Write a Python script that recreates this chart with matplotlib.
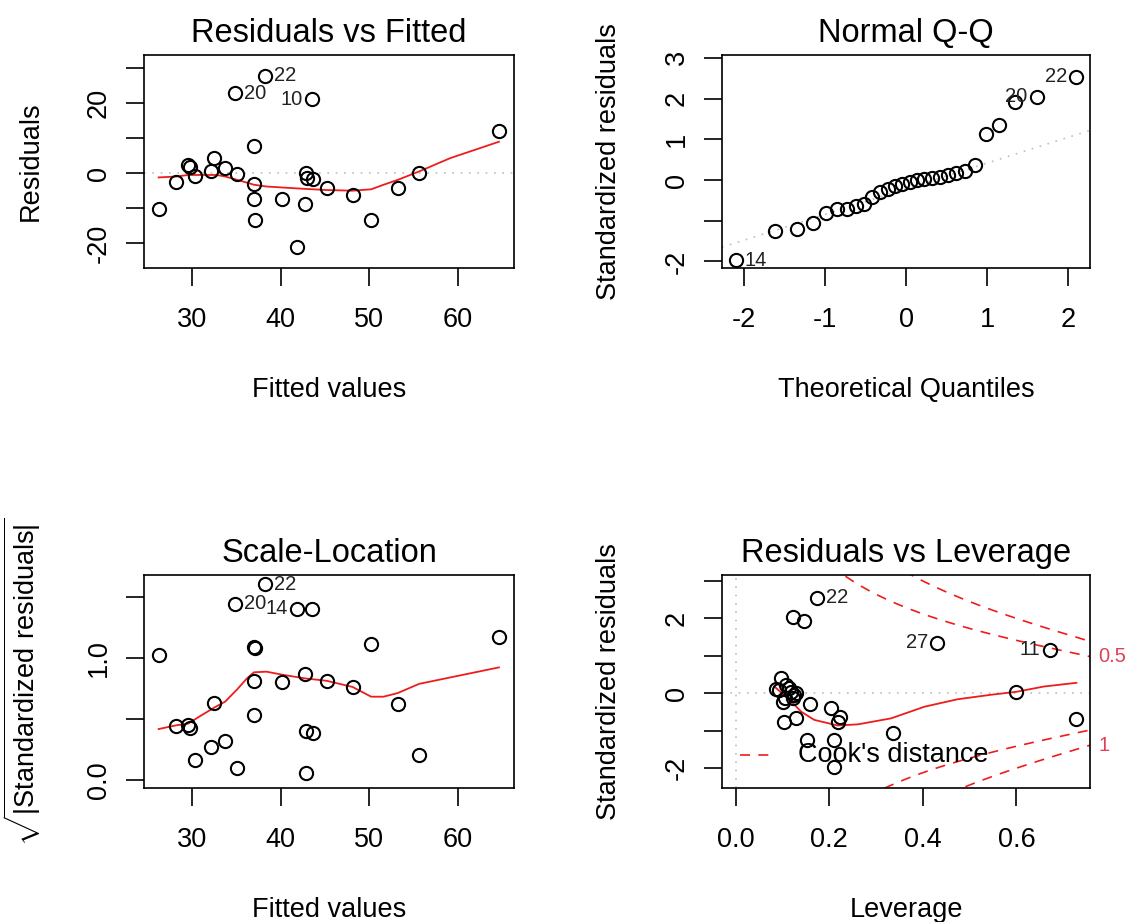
import numpy as np
import matplotlib.pyplot as plt

plt.rcParams['font.family'] = ['Liberation Sans', 'DejaVu Sans']
plt.rcParams['mathtext.fontset'] = 'custom'
plt.rcParams['mathtext.rm'] = 'Liberation Sans'

# ---------------- data ----------------
# Residuals vs Fitted
fitted = [26.25, 28.2, 29.6, 29.8, 30.4, 32.1, 32.5, 33.7, 35.1, 34.9, 38.25, 37.0, 37.0, 37.0,
          37.1, 40.2, 41.8, 42.75, 42.9, 43.0, 43.7, 43.5, 45.2, 48.1, 50.2, 53.2, 55.6, 64.6]
resid = [-10.2, -2.4, 2.4, 1.9, -0.8, 0.7, 4.3, 1.4, -0.2, 22.9, 27.8, 7.8, -3.0, -7.3,
         -13.3, -7.4, -21.0, -8.8, 0.2, -1.5, -1.7, 21.2, -4.3, -6.2, -13.3, -4.3, 0.2, 12.2]
rvf_smooth_x = [26.25, 28.2, 29.6, 30.9, 32.8, 33.75, 35.1, 36.2, 37.0, 38.4, 40.3, 42.9,
                45.2, 48.1, 50.2, 51.6, 53.2, 55.6, 59.1, 64.6]
rvf_smooth_y = [-1.2, -0.95, -0.5, -0.5, -0.5, -0.95, -1.9, -2.7, -3.3, -3.8, -4.1, -4.5,
                -4.8, -5.0, -4.6, -3.3, -1.9, 0.5, 4.3, 9.0]
rvf_ids = [(34.9, 22.9, '20', 'r'), (38.25, 27.8, '22', 'r'), (43.5, 21.2, '10', 'l')]

# Normal Q-Q
qq_theo = [-2.100, -1.611, -1.345, -1.150, -0.992, -0.854, -0.732, -0.619, -0.514, -0.415,
           -0.319, -0.225, -0.135, -0.045, 0.045, 0.135, 0.225, 0.319, 0.415, 0.514,
           0.619, 0.732, 0.854, 0.992, 1.150, 1.345, 1.611, 2.100]
qq_std = [-1.97, -1.25, -1.21, -1.05, -0.80, -0.72, -0.70, -0.64, -0.58, -0.42,
          -0.30, -0.21, -0.15, -0.10, -0.05, -0.01, 0.02, 0.05, 0.08, 0.12,
          0.17, 0.22, 0.38, 1.13, 1.34, 1.91, 2.04, 2.53]
qq_line_x = [-2.27, 2.27]
qq_line_y = [-1.65, 1.22]
qq_ids = [(-2.100, -1.97, '14', 'r'), (1.611, 2.04, '20', 'l'), (2.100, 2.53, '22', 'l')]

# Scale-Location
sl_fitted = [26.25, 28.2, 29.6, 29.8, 30.4, 32.1, 32.5, 33.7, 35.1, 34.9, 38.25, 37.0, 37.1, 37.0,
             37.0, 40.2, 41.8, 42.75, 42.9, 42.9, 43.7, 43.5, 45.2, 48.1, 50.2, 53.2, 55.6, 64.6]
sl_sqrt = [1.02, 0.44, 0.45, 0.42, 0.16, 0.27, 0.63, 0.32, 0.095, 1.44, 1.60, 1.09, 1.08, 0.81,
           0.53, 0.80, 1.40, 0.87, 0.40, 0.055, 0.38, 1.40, 0.81, 0.76, 1.11, 0.62, 0.20, 1.17]
sl_smooth_x = [26.25, 28.2, 29.6, 30.9, 32.5, 33.75, 35.1, 36.2, 37.0, 38.4, 40.2, 42.75,
               45.2, 48.1, 50.2, 51.6, 53.2, 55.6, 64.6]
sl_smooth_y = [0.415, 0.445, 0.46, 0.52, 0.59, 0.64, 0.74, 0.83, 0.88, 0.885, 0.86, 0.83,
               0.81, 0.76, 0.68, 0.68, 0.71, 0.785, 0.92]
sl_ids = [(34.9, 1.44, '20', 'r'), (38.25, 1.60, '22', 'r'), (41.8, 1.40, '14', 'l')]

# Residuals vs Leverage
leverage = [0.174, 0.122, 0.147, 0.430, 0.671, 0.097, 0.108, 0.115, 0.087, 0.093, 0.119, 0.600,
            0.129, 0.124, 0.105, 0.122, 0.101, 0.160, 0.204, 0.222, 0.129, 0.728, 0.218, 0.104,
            0.337, 0.153, 0.210, 0.210]
lev_std = [2.55, 2.04, 1.93, 1.35, 1.16, 0.42, 0.22, 0.15, 0.12, 0.09, 0.04, 0.04,
           0.0, -0.05, -0.13, -0.13, -0.22, -0.28, -0.40, -0.62, -0.67, -0.69, -0.76, -0.78,
           -1.07, -1.24, -1.26, -1.96]
lev_smooth_x = [0.083, 0.119, 0.140, 0.168, 0.218, 0.261, 0.332, 0.403, 0.474, 0.545, 0.600,
                0.658, 0.728]
lev_smooth_y = [0.18, -0.22, -0.49, -0.71, -0.86, -0.83, -0.67, -0.36, -0.16, -0.04, 0.04,
                0.18, 0.28]
lev_ids = [(0.174, 2.55, '22', 'r'), (0.430, 1.35, '27', 'l'), (0.671, 1.16, '11', 'l')]
cook_levels = [0.5, 1.0]
n_params = 6

# ---------------- layout ----------------
W, H = 1129, 922
fig = plt.figure(figsize=(W / 100, H / 100), dpi=100)

def rect(l, t, r, b):
    return [l / W, 1 - b / H, (r - l) / W, (b - t) / H]

FS = 19.5
ID_FS = 14.5
GREY = '#bebebe'
RED = '#ee1c1c'

def r_style(ax, title, xlab, ylab, xticks, xticklabels, yticks, yticklabels, xlim, ylim):
    ax.set_xlim(xlim)
    ax.set_ylim(ylim)
    ax.set_xticks(xticks)
    ax.set_xticklabels(xticklabels)
    ax.set_yticks(yticks)
    ax.set_yticklabels(yticklabels, rotation=90, va='center')
    ax.tick_params(direction='out', length=13, width=1.2, labelsize=FS, colors='black')
    ax.tick_params(axis='x', pad=15)
    ax.tick_params(axis='y', pad=10)
    for s in ax.spines.values():
        s.set_linewidth(1.2)
    ax.set_title(title, fontsize=23.5, pad=9.5)
    ax.set_xlabel(xlab, fontsize=FS)
    ax.set_ylabel(ylab, fontsize=FS)
    ax.xaxis.set_label_coords(0.5, -0.51)
    ax.yaxis.set_label_coords(-0.272, 0.5)

def points(ax, x, y):
    ax.plot(x, y, 'o', mfc='none', mec='black', ms=9.5, mew=1.5, zorder=3)

def ids(ax, items):
    for x, y, lab, side in items:
        dx = 6.5 if side == 'r' else -6.5
        ax.annotate(lab, (x, y), xytext=(dx, 0), textcoords='offset points',
                    ha='left' if side == 'r' else 'right', va='center',
                    fontsize=ID_FS, color='#222222')

# Residuals vs Fitted
ax1 = fig.add_axes(rect(144, 55, 514, 268))
ax1.axhline(0, color=GREY, lw=1.2, ls=(0, (1, 4)))
points(ax1, fitted, resid)
ax1.plot(rvf_smooth_x, rvf_smooth_y, color=RED, lw=1.3)
ids(ax1, rvf_ids)
r_style(ax1, 'Residuals vs Fitted', 'Fitted values', 'Residuals',
        [30, 40, 50, 60], ['30', '40', '50', '60'],
        [-20, -10, 0, 10, 20, 30], ['-20', '', '0', '', '20', ''],
        (24.6, 66.3), (-27.1, 33.8))

# Normal Q-Q
ax2 = fig.add_axes(rect(722, 55, 1090, 268))
ax2.plot(qq_line_x, qq_line_y, color=GREY, lw=1.2, ls=(0, (1, 4)))
points(ax2, qq_theo, qq_std)
ids(ax2, qq_ids)
r_style(ax2, 'Normal Q-Q', 'Theoretical Quantiles', 'Standardized residuals',
        [-2, -1, 0, 1, 2], ['-2', '-1', '0', '1', '2'],
        [-2, -1, 0, 1, 2, 3], ['-2', '', '0', '1', '2', '3'],
        (-2.268, 2.268), (-2.16, 3.07))

# Scale-Location
ax3 = fig.add_axes(rect(144, 575, 514, 788))
points(ax3, sl_fitted, sl_sqrt)
ax3.plot(sl_smooth_x, sl_smooth_y, color=RED, lw=1.3)
ids(ax3, sl_ids)
r_style(ax3, 'Scale-Location', 'Fitted values', r'$\sqrt{|\mathrm{Standardized\ residuals}|}$',
        [30, 40, 50, 60], ['30', '40', '50', '60'],
        [0, 0.5, 1.0, 1.5], ['0.0', '', '1.0', ''],
        (24.6, 66.3), (-0.068, 1.677))

# Residuals vs Leverage
ax4 = fig.add_axes(rect(722, 575, 1090, 788))
ax4.axhline(0, color=GREY, lw=1.2, ls=(0, (1, 4)))
ax4.axvline(0, color=GREY, lw=1.2, ls=(0, (1, 4)))
points(ax4, leverage, lev_std)
ax4.plot(lev_smooth_x, lev_smooth_y, color=RED, lw=1.3)
ids(ax4, lev_ids)
r_style(ax4, 'Residuals vs Leverage', 'Leverage', 'Standardized residuals',
        [0.0, 0.2, 0.4, 0.6], ['0.0', '0.2', '0.4', '0.6'],
        [-2, -1, 0, 1, 2, 3], ['-2', '', '0', '', '2', ''],
        (-0.029, 0.757), (-2.53, 3.16))

# Cook's distance contours
xmax = ax4.get_xlim()[1]
hh = np.linspace(min(leverage) / 100 * 8, xmax, 101)
for lev in cook_levels:
    cl = np.sqrt(lev * n_params * (1 - hh) / hh)
    ax4.plot(hh, cl, color=RED, lw=1.2, ls=(0, (6, 5)))
    ax4.plot(hh, -cl, color=RED, lw=1.2, ls=(0, (6, 5)))
ymult = np.sqrt(n_params * (1 - xmax) / xmax)
tr = ax4.get_yaxis_transform()
ax4.text(1.022, np.sqrt(cook_levels[0]) * ymult, '0.5', transform=tr, color='#e0405a',
         fontsize=ID_FS, ha='left', va='center', clip_on=False)
ax4.text(1.022, -np.sqrt(cook_levels[1]) * ymult, '1', transform=tr, color='#e0405a',
         fontsize=ID_FS, ha='left', va='center', clip_on=False)
ax4.plot([0.05, 0.139], [0.155, 0.155], transform=ax4.transAxes, color=RED, lw=1.2,
         ls=(0, (6, 5)))
ax4.text(0.207, 0.155, "Cook's distance", transform=ax4.transAxes, fontsize=FS,
         ha='left', va='center')

fig.savefig('out.png', dpi=100)
